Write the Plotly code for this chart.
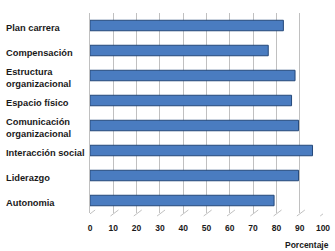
import plotly.graph_objects as go

categories = ["Plan carrera", "Compensación", "Estructura organizacional", "Espacio físico",
              "Comunicación organizacional", "Interacción social", "Liderazgo", "Autonomia"]
labels = ["Plan carrera", "Compensación", "Estructura<br>organizacional", "Espacio físico",
          "Comunicación<br>organizacional", "Interacción social", "Liderazgo", "Autonomia"]
values = [83, 76.5, 88, 86.5, 89.5, 95.5, 89.5, 79]
ticks = [0, 10, 20, 30, 40, 50, 60, 70, 80, 90, 100]

W, H = 335, 251
L, R, T, B = 90, 12, 13, 38
PW, PH = W - L - R, H - T - B
FONT = "Liberation Sans, Arial, sans-serif"

fig = go.Figure()
fig.add_trace(go.Bar(
    x=values, y=categories, orientation="h", width=0.42,
    marker=dict(color="#4a7cc0", line=dict(color="#24487a", width=1)),
    showlegend=False, hoverinfo="x+y",
))

annotations = []
for cat, lab in zip(categories, labels):
    annotations.append(dict(
        x=-(L - 4) / PW, xref="paper", y=cat, yref="y", yshift=-2,
        text=lab, showarrow=False, xanchor="left", align="left",
        font=dict(family=FONT, size=9.3, color="#1a1a1a", weight="bold"),
    ))
annotations.append(dict(
    x=(331 - L) / PW, xref="paper", y=-(245 - (T + PH)) / PH, yref="paper", yanchor="middle",
    text="Porcentaje", showarrow=False, xanchor="right",
    font=dict(family=FONT, size=8.5, color="#1a1a1a", weight="bold"),
))

shapes = []
for v in ticks:
    shapes.append(dict(type="line", xref="x", yref="paper", x0=v - 1.2, x1=v + 2.2,
                       y0=-0.015, y1=0.015, line=dict(color="#c0c0c0", width=1)))

fig.update_layout(
    width=W, height=H,
    margin=dict(l=L, r=R, t=T, b=B, autoexpand=False),
    paper_bgcolor="white", plot_bgcolor="white",
    annotations=annotations,
    shapes=shapes,
    xaxis=dict(range=[0, 100], tickvals=ticks, showgrid=True, gridcolor="#c0c0c0", gridwidth=1,
               zeroline=False, showline=False, ticks="", ticklabelstandoff=8, automargin=False,
               tickfont=dict(family=FONT, size=8.5, color="#1a1a1a", weight="bold")),
    yaxis=dict(categoryorder="array", categoryarray=categories, autorange=False, automargin=False,
               range=[7.5, -0.5], showticklabels=False, showgrid=False, zeroline=False,
               showline=True, linecolor="#c0c0c0", linewidth=1, ticks=""),
)

fig.write_html("out.html", config={"displayModeBar": False},
               post_script="document.body.style.margin='0';")
